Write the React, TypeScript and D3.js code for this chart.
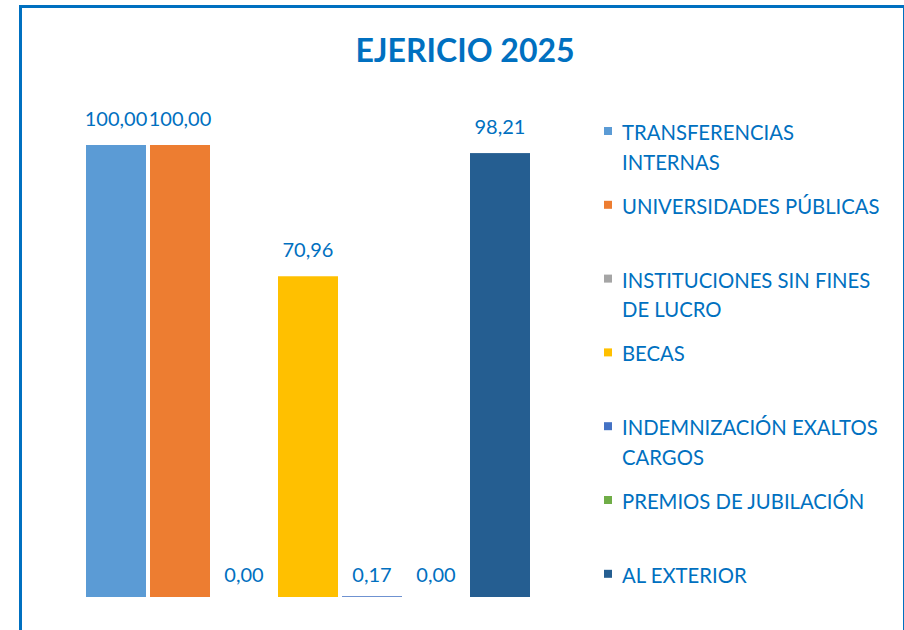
import React, { useRef, useEffect } from "react";
import * as d3 from "d3";

const series = [
  "TRANSFERENCIAS INTERNAS",
  "UNIVERSIDADES PÚBLICAS",
  "INSTITUCIONES SIN FINES DE LUCRO",
  "BECAS",
  "INDEMNIZACIÓN EXALTOS CARGOS",
  "PREMIOS DE JUBILACIÓN",
  "AL EXTERIOR",
];
// legend lines as wrapped in the original
const legendLines = [
  ["TRANSFERENCIAS", "INTERNAS"],
  ["UNIVERSIDADES PÚBLICAS"],
  ["INSTITUCIONES SIN FINES", "DE LUCRO"],
  ["BECAS"],
  ["INDEMNIZACIÓN EXALTOS", "CARGOS"],
  ["PREMIOS DE JUBILACIÓN"],
  ["AL EXTERIOR"],
];
const values = [100.0, 100.0, 0.0, 70.96, 0.17, 0.0, 98.21];
const colors = ["#5B9BD5", "#ED7D31", "#A5A5A5", "#FFC000", "#4472C4", "#70AD47", "#255E91"];

const W = 904;
const H = 630;
const FONT = "Lato, 'Open Sans', sans-serif";
const TXT = "#0070C0";

export default function App() {
  const ref = useRef<SVGSVGElement>(null);

  useEffect(() => {
    const svg = d3.select(ref.current);
    svg.selectAll("*").remove();

    // chart frame (right side runs off the edge)
    svg.append("rect")
      .attr("x", 20.5).attr("y", 6.5)
      .attr("width", 884).attr("height", 700)
      .attr("fill", "white")
      .attr("stroke", "#0070C0")
      .attr("stroke-width", 3);

    svg.append("text")
      .attr("x", 465).attr("y", 62)
      .attr("text-anchor", "middle")
      .attr("font-family", FONT)
      .attr("font-weight", "bold")
      .attr("font-size", 32)
      .attr("fill", TXT)
      .text("EJERICIO 2025");

    const x = d3.scaleBand<string>()
      .domain(series)
      .range([84, 532])
      .paddingInner(4 / 64)
      .paddingOuter(2 / 64);

    const y = d3.scaleLinear().domain([0, 100]).range([597, 145]);

    const g = svg.append("g");
    g.selectAll("rect.bar")
      .data(values)
      .join("rect")
      .attr("class", "bar")
      .attr("x", (d, i) => x(series[i])!)
      .attr("width", x.bandwidth())
      .attr("y", d => y(d))
      .attr("height", d => y(0) - y(d))
      .attr("fill", (d, i) => colors[i]);

    const fmt = (v: number) => v.toFixed(2).replace(".", ",");
    g.selectAll("text.lbl")
      .data(values)
      .join("text")
      .attr("class", "lbl")
      .attr("x", (d, i) => x(series[i])! + x.bandwidth() / 2)
      .attr("y", d => (y(0) - y(d) > 5 ? y(d) - 19 : y(0) - 15))
      .attr("text-anchor", "middle")
      .attr("font-family", FONT)
      .attr("font-size", 20)
      .attr("fill", TXT)
      .text(d => fmt(d));

    const legend = svg.append("g")
      .selectAll("g")
      .data(legendLines)
      .join("g")
      .attr("transform", (d, i) => `translate(604, ${140 + i * 73.8})`);

    legend.append("rect")
      .attr("x", 0).attr("y", -13)
      .attr("width", 8).attr("height", 8)
      .attr("fill", (d, i) => colors[i]);

    legend.each(function (lines) {
      const t = d3.select(this).append("text")
        .attr("font-family", FONT)
        .attr("font-size", 20.3)
        .attr("fill", TXT);
      lines.forEach((line, j) => {
        t.append("tspan").attr("x", 18).attr("y", j * 29.5).text(line);
      });
    });
  }, []);

  return (
    <svg
      ref={ref}
      width={W}
      height={H}
      style={{ position: "absolute", left: 0, top: 0, background: "white" }}
    />
  );
}
